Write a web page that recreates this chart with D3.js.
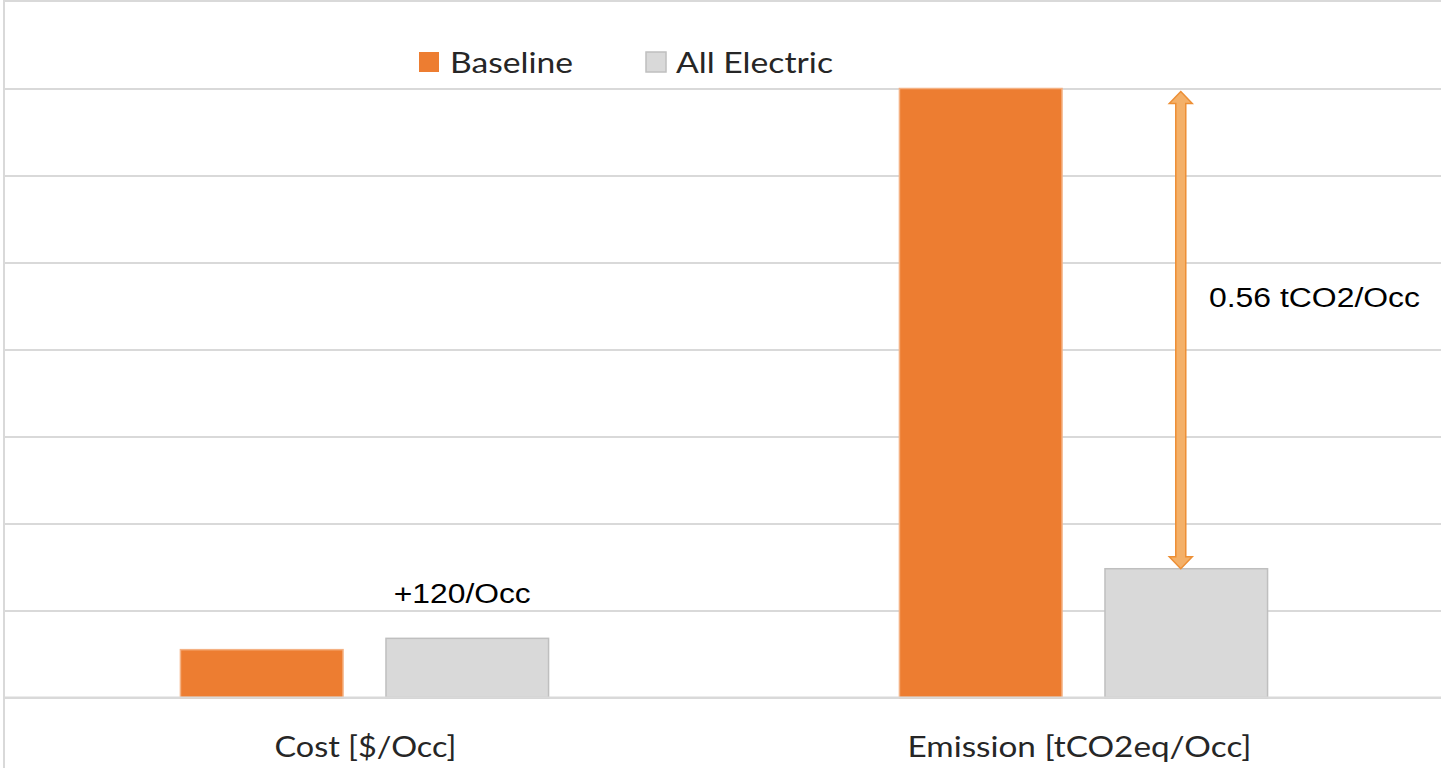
<!DOCTYPE html>
<html>
<head>
<meta charset="utf-8">
<script src="https://cdn.jsdelivr.net/npm/d3@7"></script>
<style>
  html, body { margin: 0; padding: 0; background: #fff; }
  svg { display: block; }
</style>
</head>
<body>
<svg id="chart" width="1441" height="768"></svg>
<script>
// ---- data ----
const categories = ["Cost [$/Occ]", "Emission [tCO2eq/Occ]"];
const seriesNames = ["Baseline", "All Electric"];
const baselineValues = [0.055, 0.700];
const allElectricValues = [0.068, 0.148];
const gridTicks = [0, 0.1, 0.2, 0.3, 0.4, 0.5, 0.6, 0.7];
const costNote = "+120/Occ";
const emissionNote = "0.56 tCO2/Occ";

const colors = { "Baseline": "#ED7D31", "All Electric": "#D9D9D9" };
const strokes = { "Baseline": "#F4B183", "All Electric": "#BFBFBF" };

const W = 1441, H = 768;
const svg = d3.select("#chart");
const plot = { left: 5, right: 1443, top: 88.5, bottom: 697.5 };

const y = d3.scaleLinear().domain([0, 0.7]).range([plot.bottom, plot.top]);
const x0 = d3.scaleBand().domain(categories).range([plot.left, plot.right])
  .paddingInner(0.488).paddingOuter(0.244);
const x1 = d3.scaleBand().domain(seriesNames).range([0, x0.bandwidth()])
  .paddingInner(0.209).paddingOuter(0);

// chart frame (left & top edge visible)
svg.append("line").attr("x1", 4).attr("x2", 4).attr("y1", 0).attr("y2", H)
  .attr("stroke", "#D9D9D9").attr("stroke-width", 2);
svg.append("line").attr("x1", 4).attr("x2", W).attr("y1", 1).attr("y2", 1)
  .attr("stroke", "#D9D9D9").attr("stroke-width", 2);

// gridlines via axis
const yAxis = d3.axisLeft(y).tickValues(gridTicks).tickSize(-(W - plot.left)).tickFormat("");
const gy = svg.append("g").attr("transform", `translate(${plot.left},0)`).call(yAxis);
gy.select(".domain").remove();
gy.selectAll(".tick line").attr("stroke", "#D9D9D9").attr("stroke-width", 2);

// bars
const rows = categories.map((c, i) => ({
  cat: c,
  vals: [
    { s: "Baseline", v: baselineValues[i] },
    { s: "All Electric", v: allElectricValues[i] }
  ]
}));

const groups = svg.append("g").selectAll("g").data(rows).join("g")
  .attr("transform", d => `translate(${x0(d.cat)},0)`);
groups.selectAll("rect").data(d => d.vals).join("rect")
  .attr("x", d => x1(d.s))
  .attr("y", d => y(d.v))
  .attr("width", x1.bandwidth())
  .attr("height", d => y(0) - y(d.v))
  .attr("fill", d => colors[d.s])
  .attr("stroke", d => strokes[d.s])
  .attr("stroke-width", 1.5);

// baseline axis line
svg.append("line").attr("x1", plot.left).attr("x2", W).attr("y1", y(0)).attr("y2", y(0))
  .attr("stroke", "#D9D9D9").attr("stroke-width", 2);

// category labels
const xAxis = d3.axisBottom(x0).tickSize(0).tickPadding(0);
const gx = svg.append("g").attr("transform", `translate(0,${y(0)})`).call(xAxis);
gx.select(".domain").remove();
gx.selectAll(".tick text")
  .attr("y", 59).attr("dy", 0)
  .attr("fill", "#262626")
  .style("font-family", "Lato, 'Open Sans', sans-serif")
  .style("font-size", "28px")
  .attr("text-anchor", "middle")
  .each(function(d, i) {
    d3.select(this)
      .attr("x", i === 0 ? 1 : -4)
      .attr("textLength", i === 0 ? 182 : 344).attr("lengthAdjust", "spacingAndGlyphs");
  });

// legend
const legendItems = [
  { s: "Baseline", sx: 419, tx: 450, tw: 123 },
  { s: "All Electric", sx: 646, tx: 676, tw: 157 }
];
const lg = svg.append("g");
legendItems.forEach(it => {
  lg.append("rect").attr("x", it.sx).attr("y", 52).attr("width", 20).attr("height", 20)
    .attr("fill", colors[it.s]).attr("stroke", it.s === "All Electric" ? "#BFBFBF" : "none").attr("stroke-width", 1.5);
  lg.append("text").attr("x", it.tx).attr("y", 72.5)
    .attr("fill", "#262626")
    .style("font-family", "Lato, 'Open Sans', sans-serif")
    .style("font-size", "29px")
    .attr("textLength", it.tw).attr("lengthAdjust", "spacingAndGlyphs")
    .text(it.s);
});

// annotation: cost note
const cElec = x0(categories[0]) + x1("All Electric") + x1.bandwidth() / 2;
svg.append("text")
  .attr("x", cElec - 5).attr("y", y(allElectricValues[0]) - 35)
  .attr("text-anchor", "middle")
  .attr("fill", "#000")
  .style("font-family", "'Liberation Sans', Arial, sans-serif")
  .style("font-size", "27px")
  .attr("textLength", 137).attr("lengthAdjust", "spacingAndGlyphs")
  .text(costNote);

// double arrow for emission difference
const ax = x0(categories[1]) + x1("All Electric") + x1.bandwidth() / 2 - 5.5;
const yTop = y(baselineValues[1]) + 3;
const yBot = y(allElectricValues[1]);
const hw = 11.5, sw = 5, hh = 12;
const arrowPath = d3.path();
arrowPath.moveTo(ax, yTop);
arrowPath.lineTo(ax + hw, yTop + hh);
arrowPath.lineTo(ax + sw, yTop + hh);
arrowPath.lineTo(ax + sw, yBot - hh);
arrowPath.lineTo(ax + hw, yBot - hh);
arrowPath.lineTo(ax, yBot);
arrowPath.lineTo(ax - hw, yBot - hh);
arrowPath.lineTo(ax - sw, yBot - hh);
arrowPath.lineTo(ax - sw, yTop + hh);
arrowPath.lineTo(ax - hw, yTop + hh);
arrowPath.closePath();
svg.append("path").attr("d", arrowPath.toString())
  .attr("fill", "#F4B068").attr("stroke", "#ED8F35").attr("stroke-width", 1.5)
  .attr("stroke-linejoin", "miter");

svg.append("text")
  .attr("x", 1209).attr("y", 307)
  .attr("fill", "#000")
  .style("font-family", "'Liberation Sans', Arial, sans-serif")
  .style("font-size", "27px")
  .attr("textLength", 211).attr("lengthAdjust", "spacingAndGlyphs")
  .text(emissionNote);
</script>
</body>
</html>
